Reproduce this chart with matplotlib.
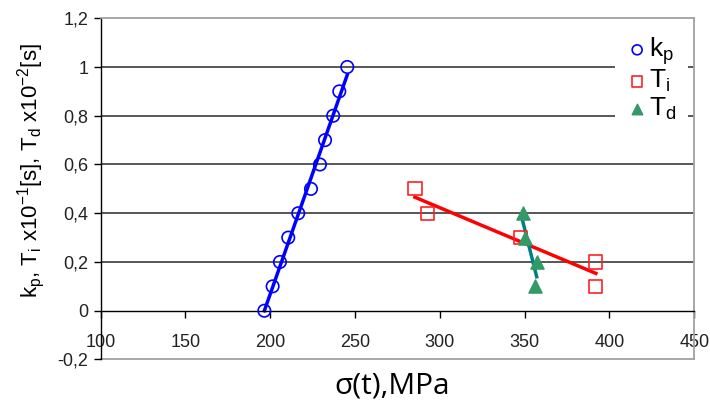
import numpy as np
import matplotlib.pyplot as plt
from matplotlib.ticker import FixedLocator

# data
kp_stress = [196.5, 201.4, 205.7, 210.6, 216.5, 224.0, 229.3, 232.3, 237.1, 240.7, 245.4]
kp_val = [0.0, 0.1, 0.2, 0.3, 0.4, 0.5, 0.6, 0.7, 0.8, 0.9, 1.0]
ti_stress = [285.3, 292.6, 347.6, 391.9, 392.0]
ti_val = [0.5, 0.4, 0.3, 0.2, 0.1]
td_stress = [348.8, 350.2, 357.1, 356.3]
td_val = [0.4, 0.3, 0.2, 0.1]

x_ticks = [100, 150, 200, 250, 300, 350, 400, 450]
y_ticks = [-0.2, 0.0, 0.2, 0.4, 0.6, 0.8, 1.0, 1.2]
y_ticklabels = ["-0,2", "0", "0,2", "0,4", "0,6", "0,8", "1", "1,2"]

plt.rcParams['font.family'] = ['Liberation Sans', 'DejaVu Sans']
plt.rcParams['mathtext.fontset'] = 'custom'
plt.rcParams['mathtext.rm'] = 'Liberation Sans'
plt.rcParams['mathtext.it'] = 'Liberation Sans:italic'
plt.rcParams['mathtext.bf'] = 'Liberation Sans:bold'

fig = plt.figure(figsize=(7.10, 4.03), dpi=100)
ax = fig.add_axes([0.1418, 0.108, 0.836, 0.8467])
ax.set_xlim(100, 450)
ax.set_ylim(-0.2, 1.2)

# gridlines
for yv in y_ticks[2:-1]:
    ax.axhline(yv, color='#4a4a4a', lw=1.3, zorder=1)

# frame
for s in ['top', 'right']:
    ax.spines[s].set_color('#a0a0a0')
    ax.spines[s].set_linewidth(1.3)
ax.spines['left'].set_color('black')
ax.spines['left'].set_linewidth(1.0)
ax.spines['bottom'].set_position(('data', 0))
ax.spines['bottom'].set_color('black')
ax.spines['bottom'].set_linewidth(1.0)
ax.plot([0, 1], [0, 0], transform=ax.transAxes, color='#a0a0a0', lw=1.3,
        clip_on=False, zorder=0)

ax.xaxis.set_major_locator(FixedLocator(x_ticks))
ax.set_xticklabels([str(v) for v in x_ticks])
ax.yaxis.set_major_locator(FixedLocator(y_ticks))
ax.set_yticklabels(y_ticklabels)
ax.tick_params(axis='x', direction='out', length=5, width=1, pad=12,
               labelsize=13, labelcolor='#222222')
ax.tick_params(axis='y', direction='out', length=5, width=1, pad=4,
               labelsize=13, labelcolor='#222222')

# trend lines (linear fit over the data range)
for xs, ys, col in [(kp_stress, kp_val, '#0000ff'),
                    (ti_stress, ti_val, '#ff0000'),
                    (td_stress, td_val, '#008080')]:
    a, b = np.polyfit(xs, ys, 1)
    xx = np.array([min(xs), max(xs)])
    ax.plot(xx, a * xx + b, color=col, lw=2.5, zorder=2)

h1 = ax.scatter(kp_stress, kp_val, s=80, marker='o', facecolors='none',
                edgecolors='#0000ff', linewidths=1.2, zorder=3)
h2 = ax.scatter(ti_stress, ti_val, s=90, marker='s', facecolors='none',
                edgecolors='#ff2020', linewidths=1.2, zorder=3)
h3 = ax.scatter(td_stress, td_val, s=90, marker='^', facecolors='#339966',
                edgecolors='#339966', linewidths=1.0, zorder=3)

leg = ax.legend([h1, h2, h3],
                [r"k$_\mathregular{p}$", r"T$_\mathregular{i}$", r"T$_\mathregular{d}$"],
                loc='upper right', bbox_to_anchor=(0.99, 0.985),
                frameon=True, fancybox=False,
                framealpha=1, edgecolor='none', facecolor='white',
                prop={'size': 19}, handletextpad=0.05, labelspacing=0.05,
                borderpad=0.45, handlelength=0.8, borderaxespad=0.0,
                markerscale=0.8)
leg.set_zorder(5)

fig.text(0.043, 0.576, r"k$_\mathregular{p}$, T$_\mathregular{i}$ x10$^\mathregular{-1}$[s], "
         r"T$_\mathregular{d}$ x10$^\mathregular{-2}$[s]",
         rotation=90, ha='center', va='center', fontsize=16)
fig.text(0.552, 0.043, "σ(t),MPa", ha='center', va='center', fontsize=21.5,
         family=['Open Sans', 'DejaVu Sans'])

fig.savefig('out.png', dpi=100)
